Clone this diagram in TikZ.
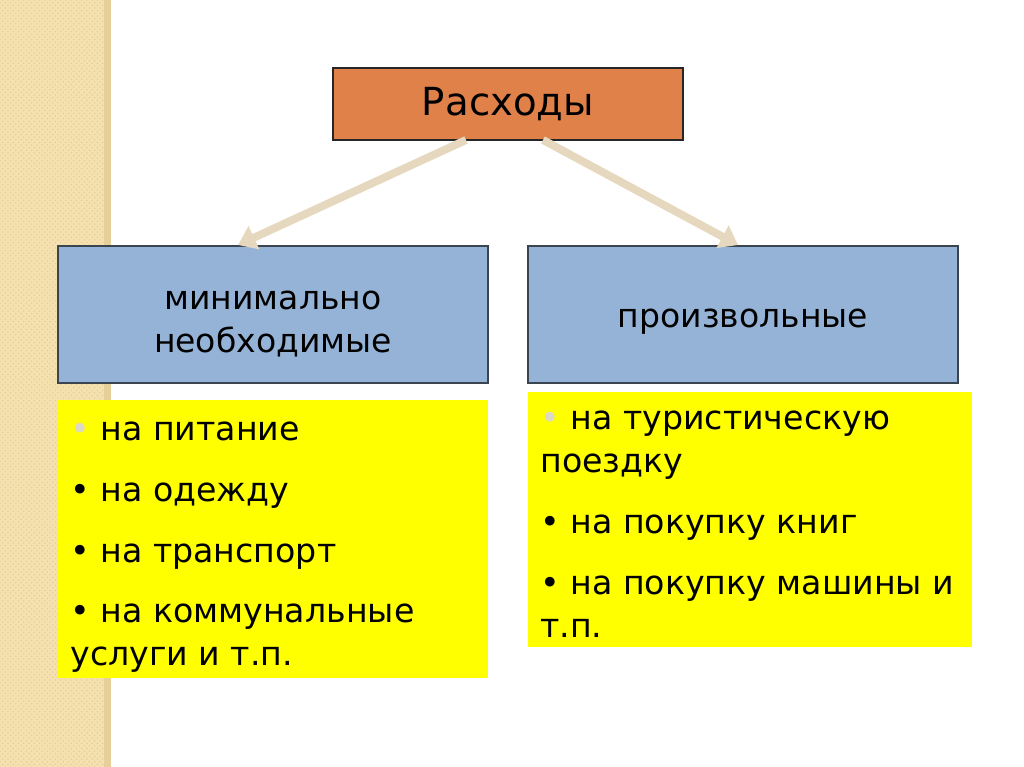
\documentclass[tikz,border=0pt]{standalone}
\usepackage{fontspec}
\setmainfont{DejaVu Sans}
\usetikzlibrary{arrows.meta,patterns}

\definecolor{stripe}{HTML}{F5E1B0}
\definecolor{stripedark}{HTML}{E6CF98}
\definecolor{headfill}{HTML}{E0814A}
\definecolor{catfill}{HTML}{95B3D7}
\definecolor{catline}{HTML}{3A4550}
\definecolor{linkcol}{HTML}{E6D8BE}
\definecolor{dotgray}{HTML}{DDD9C8}
\definecolor{listfill}{HTML}{FFFF00}

\tikzset{
  headbox/.style={draw=black!85, fill=headfill, line width=1pt,
    minimum width=7cm, minimum height=1.44cm, inner sep=0pt,
    font=\fontsize{22}{26}\selectfont},
  catbox/.style={draw=catline, fill=catfill, line width=1pt,
    minimum width=8.6cm, minimum height=2.74cm, inner sep=0pt},
  cattext/.style={inner sep=0pt, align=center,
    font=\fontsize{18.8}{24}\selectfont},
  listbox/.style={fill=listfill, inner sep=0pt},
  item/.style={anchor=base west, inner sep=0pt,
    font=\fontsize{18.9}{24.4}\selectfont, align=left},
  link/.style={linkcol, line width=4.5pt, -{Triangle[length=10pt,width=14pt]}}
}

\begin{document}
\begin{tikzpicture}[x=0.02cm, y=-0.02cm]
    \useasboundingbox (0,0) rectangle (1024,767);
    % left stripe
    \fill[stripe] (0,0) rectangle (110,767);
    \fill[pattern=crosshatch dots, pattern color=stripedark] (0,0) rectangle (104,767);
    \fill[stripedark] (104,0) rectangle (111,767);

    % boxes
    \node[headbox] (spend) at (508,104) {Расходы};
    \node[catbox] (basic) at (273,314.5) {};
    \node[catbox] (extra) at (743,314.5) {};
    \node[cattext] (basictext) at (273,324) {минимально\\необходимые};
    \node[cattext] (extratext) at (743,322) {произвольные};
    \node[listbox, minimum width=8.6cm, minimum height=5.56cm] (basiclist) at (273,539) {};
    \node[listbox, minimum width=8.88cm, minimum height=5.1cm] (extralist) at (750,519.5) {};

    % links
    \coordinate (fromL) at (466,140);
    \coordinate (fromR) at (543,140);
    \coordinate (toL) at (238,245);
    \coordinate (toR) at (738,245);
    \draw[link] (fromL) -- (toL);
    \draw[link] (fromR) -- (toR);

    % left list
    \node[item] (b1) at (70,440) {{\color{dotgray}•} на питание};
    \node[item] (b2) at (70,501) {• на одежду};
    \node[item] (b3) at (70,562) {• на транспорт};
    \node[item] (b4) at (70,665) {• на коммунальные\\услуги и т.п.};

    % right list
    \node[item] (e1) at (540,472) {{\color{dotgray}•} на туристическую\\поездку};
    \node[item] (e2) at (540,533) {• на покупку книг};
    \node[item] (e3) at (540,637) {• на покупку машины и\\т.п.};
\end{tikzpicture}
\end{document}
